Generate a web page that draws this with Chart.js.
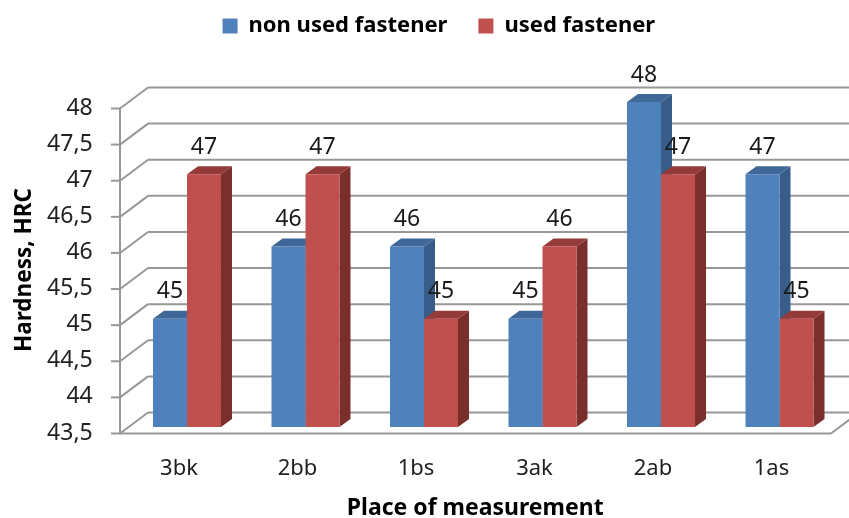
<!DOCTYPE html>
<html>
<head>
<meta charset="utf-8">
<title>Hardness</title>
<style>
body { margin: 0; background: #fff; }
#wrap { width: 849px; height: 518px; }
</style>
<script src="https://cdn.jsdelivr.net/npm/chart.js@4"></script>
</head>
<body>
<div id="wrap"><canvas id="hardness-chart" width="849" height="518"></canvas></div>
<script>
const categories = ["3bk", "2bb", "1bs", "3ak", "2ab", "1as"];
const nonUsed = [45, 46, 46, 45, 48, 47];
const used = [47, 47, 45, 46, 47, 45];

const fontFamily = "'Noto Sans', sans-serif";
const gridColor = "#979797";

// fake 3D: depth of the bars and position of the walls, relative to the bar plane
const barDepth = { x: 11, y: 8 };
const frontShift = { x: -7.75, y: 6.5 };
const backShift = { x: 20.25, y: -14.5 };

function line(ctx, x1, y1, x2, y2) {
    ctx.beginPath();
    ctx.moveTo(x1, y1);
    ctx.lineTo(x2, y2);
    ctx.stroke();
}

function poly(ctx, pts, color) {
    ctx.fillStyle = color;
    ctx.beginPath();
    pts.forEach((p, i) => i ? ctx.lineTo(p[0], p[1]) : ctx.moveTo(p[0], p[1]));
    ctx.closePath();
    ctx.fill();
}

const fake3d = {
    id: "fake3d",
    afterLayout(chart) {
        // library places these centred on its boxes, the picture has them off centre
        chart.legend.left += 19.5;
        chart.legend.right += 19.5;
        chart.legend.top = -16;
        chart.scales.y.bottom += 11;
        chart.scales.x.left -= 16;
    },
    beforeDatasetsDraw(chart) {
        const { ctx, scales: { y }, chartArea } = chart;
        const left = chartArea.left;
        const right = chartArea.right;
        ctx.save();
        ctx.strokeStyle = gridColor;
        ctx.lineWidth = 2;
        y.ticks.forEach(t => {
            const py = y.getPixelForValue(t.value);
            line(ctx, left + frontShift.x - 9, py + frontShift.y, left + frontShift.x, py + frontShift.y);
            line(ctx, left + frontShift.x, py + frontShift.y, left + backShift.x, py + backShift.y);
            line(ctx, left + backShift.x, py + backShift.y, right + backShift.x, py + backShift.y);
        });
        const top = y.getPixelForValue(y.max);
        const floor = y.getPixelForValue(y.min);
        line(ctx, left + frontShift.x, top + frontShift.y, left + frontShift.x, floor + frontShift.y);
        line(ctx, left + frontShift.x, floor + frontShift.y, right + frontShift.x, floor + frontShift.y);
        line(ctx, right + frontShift.x, floor + frontShift.y, right + backShift.x, floor + backShift.y);

        // side and top faces go first, blue then red, the front faces cover what they must
        chart.data.datasets.forEach((ds, i) => {
            chart.getDatasetMeta(i).data.forEach(bar => {
                const l = bar.x - bar.width / 2;
                const r = bar.x + bar.width / 2;
                const dx = barDepth.x;
                const dy = barDepth.y;
                poly(ctx, [[r, bar.y], [r + dx, bar.y - dy], [r + dx, bar.base - dy], [r, bar.base]], ds.sideColor);
                poly(ctx, [[l, bar.y], [r, bar.y], [r + dx, bar.y - dy], [l + dx, bar.y - dy]], ds.topColor);
            });
        });
        ctx.restore();
    },
    afterDatasetsDraw(chart) {
        const { ctx } = chart;
        ctx.save();
        ctx.fillStyle = "#1a1a1a";
        ctx.font = "23px " + fontFamily;
        ctx.textAlign = "center";
        ctx.textBaseline = "middle";
        chart.data.datasets.forEach((ds, i) => {
            chart.getDatasetMeta(i).data.forEach((bar, j) => {
                ctx.fillText(ds.data[j], bar.x, bar.y - 27);
            });
        });
        ctx.restore();
    }
};

new Chart(document.getElementById("hardness-chart"), {
    type: "bar",
    data: {
        labels: categories,
        datasets: [
            { label: "non used fastener", data: nonUsed, backgroundColor: "#4f81bd", sideColor: "#385d8a", topColor: "#3f6797" },
            { label: "used fastener", data: used, backgroundColor: "#c0504d", sideColor: "#7b2f2d", topColor: "#943a38" }
        ]
    },
    options: {
        responsive: false,
        animation: false,
        layout: { padding: { top: 39, right: 10.25, left: 0, bottom: 0 } },
        datasets: { bar: { categoryPercentage: 0.574, barPercentage: 1, base: 43.5 } },
        plugins: {
            tooltip: { enabled: false },
            legend: {
                position: "top",
                labels: {
                    boxWidth: 15,
                    boxHeight: 15,
                    padding: 31,
                    color: "#000",
                    font: { family: fontFamily, size: 22, weight: "bold" }
                }
            }
        },
        scales: {
            x: {
                afterFit(scale) { scale.height = 91; },
                grid: { display: false, drawTicks: false },
                border: { display: false },
                ticks: { padding: 29, labelOffset: -8, color: "#222", maxRotation: 0, font: { family: fontFamily, size: 22 } },
                title: { display: true, text: "Place of measurement", color: "#000", padding: { top: 12, bottom: -4 }, font: { family: fontFamily, size: 23, weight: "bold" } }
            },
            y: {
                min: 43.5,
                max: 48,
                afterFit(scale) { scale.width = 127.75; },
                grid: { display: false, drawTicks: false },
                border: { display: false },
                ticks: {
                    stepSize: 0.5,
                    padding: 35,
                    labelOffset: 6,
                    color: "#222",
                    font: { family: fontFamily, size: 23 },
                    callback: value => String(value).replace(".", ",")
                },
                title: { display: true, text: "Hardness, HRC", color: "#000", padding: { top: 11, bottom: 0 }, font: { family: fontFamily, size: 22.5, weight: "bold" } }
            }
        }
    },
    plugins: [fake3d]
});
</script>
</body>
</html>
